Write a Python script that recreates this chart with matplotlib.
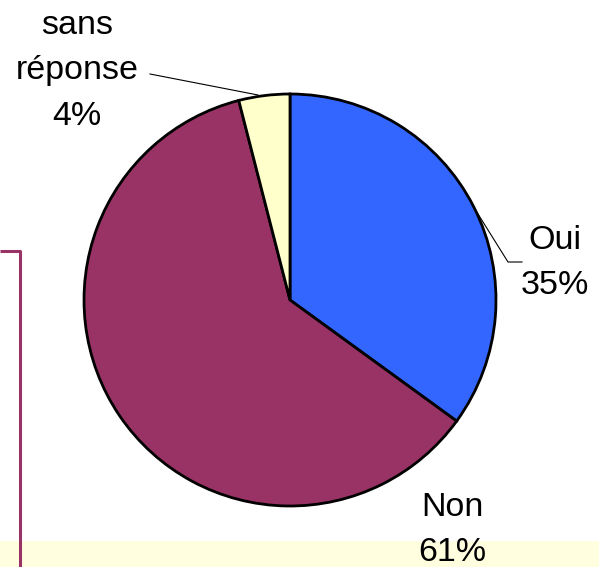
import matplotlib
matplotlib.use("Agg")
import matplotlib.pyplot as plt
from matplotlib.patches import Rectangle

labels = ["Oui", "Non", "sans\nréponse"]
values = [35, 61, 4]
colors = ["#3366FF", "#993366", "#FFFFCC"]

W, H = 599, 567
fig = plt.figure(figsize=(W / 100, H / 100), dpi=100)
ax = fig.add_axes([0, 0, 1, 1])


def Y(y):
    return H - y


# background decorations
ax.add_patch(Rectangle((0, 0), W, Y(541), facecolor="#FFFFE0", edgecolor="none", zorder=0))
ax.plot([0, 20, 20], [Y(251), Y(251), 0], color="#993366", lw=2.2, zorder=1,
        solid_capstyle="butt")

cx, cy, r = 290, Y(300), 206
wedges, _ = ax.pie(values, colors=colors, startangle=90, counterclock=False,
                   center=(cx, cy), radius=r, frame=True,
                   wedgeprops=dict(edgecolor="black", linewidth=2.0))
ax.set_xlim(0, W)
ax.set_ylim(0, H)
ax.set_aspect("equal")
ax.axis("off")

font = dict(family="Liberation Sans", fontsize=24.5, ha="center", va="center", linespacing=1.6)
pct = [f"{v}%" for v in values]
ax.text(555, Y(263), f"{labels[0]}\n{pct[0]}", **font)
ax.text(452, Y(530), f"{labels[1]}\n{pct[1]}", **font)
ax.text(77, Y(71), f"{labels[2]}\n{pct[2]}", **font)

# leader lines
ax.plot([150, 258], [Y(74), Y(95)], color="black", lw=0.8)
ax.plot([478, 508, 522], [Y(214), Y(262), Y(262)], color="black", lw=0.8)

fig.savefig("out.png", dpi=100)
